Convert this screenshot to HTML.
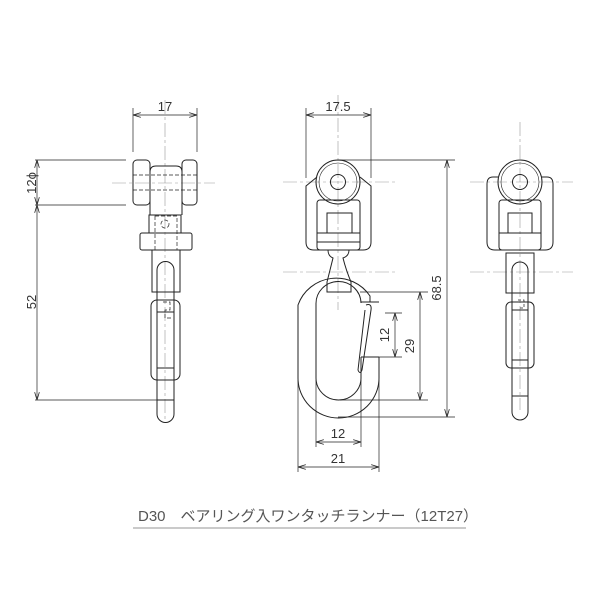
<!DOCTYPE html>
<html><head><meta charset="utf-8"><style>
html,body{margin:0;padding:0;background:#fff}
svg{display:block}
text{font-family:"Liberation Sans","Noto Sans CJK JP",sans-serif;fill:#333}
</style></head><body>
<svg width="600" height="600" viewBox="0 0 600 600" xmlns="http://www.w3.org/2000/svg">
<defs>
<marker id="a" viewBox="0 0 10 6" refX="10" refY="3" markerWidth="8" markerHeight="5" orient="auto-start-reverse" markerUnits="userSpaceOnUse"><path d="M0,0 L10,3 L0,6" fill="none" stroke="#222" stroke-width="1"/></marker>
</defs>
<g fill="none" stroke="#222" stroke-width="1">
<!-- LEFT VIEW -->
<g stroke="#999" stroke-width="0.6" stroke-dasharray="14,3,3,3">
<line x1="165" y1="100" x2="165" y2="420"/>
<line x1="112" y1="183" x2="215" y2="183"/>
</g>
<line x1="133" y1="108" x2="133" y2="152" stroke-width="0.7"/>
<line x1="197" y1="108" x2="197" y2="152" stroke-width="0.7"/>
<line x1="133" y1="115" x2="197" y2="115" stroke-width="0.7" marker-start="url(#a)" marker-end="url(#a)"/>
<line x1="35" y1="160" x2="126" y2="160" stroke-width="0.8"/>
<line x1="35" y1="205" x2="126" y2="205" stroke-width="0.8"/>
<line x1="35" y1="400" x2="157" y2="400" stroke-width="0.8"/>
<line x1="37" y1="160" x2="37" y2="205" stroke-width="0.7" marker-start="url(#a)" marker-end="url(#a)"/>
<line x1="37" y1="205" x2="37" y2="400" stroke-width="0.7" marker-start="url(#a)" marker-end="url(#a)"/>
<rect x="133" y="160" width="17" height="45" rx="4"/>
<rect x="182" y="160" width="15" height="45" rx="4"/>
<path d="M150,215 V172 Q150,166 156,166 H176 Q182,166 182,172 V215"/>
<g stroke-dasharray="4,2" stroke-width="0.7">
<line x1="133" y1="175" x2="197" y2="175"/>
<line x1="133" y1="190" x2="197" y2="190"/>
<rect x="155" y="216" width="22" height="34"/>
<circle cx="165" cy="224" r="4"/>
<path d="M163,302 H170 V310 H165 V318 H172"/>
</g>
<rect x="149" y="215" width="32" height="18"/>
<rect x="140" y="233" width="52" height="17" rx="2"/>
<rect x="152" y="250" width="28" height="42"/>
<rect x="151" y="300" width="29" height="80" rx="6"/>
<path d="M157,414 V270 A8.5,8.5 0 0 1 174,270 V414 A8.5,8.5 0 0 1 157,414"/>
<line x1="157" y1="312" x2="174" y2="312"/>
<line x1="157" y1="368" x2="174" y2="368"/>
<line x1="157" y1="400" x2="174" y2="400"/>
<!-- MIDDLE VIEW -->
<g stroke="#999" stroke-width="0.6" stroke-dasharray="14,3,3,3">
<line x1="338" y1="95" x2="338" y2="310"/>
<line x1="283" y1="182" x2="395" y2="182"/>
<line x1="283" y1="272" x2="395" y2="272"/>
</g>
<line x1="306" y1="108" x2="306" y2="178" stroke-width="0.7"/>
<line x1="371" y1="108" x2="371" y2="178" stroke-width="0.7"/>
<line x1="306" y1="115" x2="371" y2="115" stroke-width="0.7" marker-start="url(#a)" marker-end="url(#a)"/>
<circle cx="338" cy="182" r="22"/>
<circle cx="338" cy="182" r="19" stroke-width="0.6"/>
<circle cx="338" cy="182" r="7.5"/>
<path d="M317,177 L306,186 V242 Q306,250 314,250 H363 Q371,250 371,242 V186 L360,177"/>
<rect x="317" y="200" width="43" height="50" rx="3"/>
<rect x="327" y="213" width="25" height="20"/>
<line x1="317" y1="233" x2="360" y2="233"/>
<line x1="317" y1="242" x2="360" y2="242"/>
<path d="M328,250 Q328,256 333,258 Q330,270 327,282 V292 H351 V282 Q346,270 343,258 Q349,256 349,250"/>
<path d="M370,302 V296 A40.5,40 0 0 0 298,305 V378 A40.5,40 0 0 0 379,378 V357"/>
<path d="M361,302 V303 A22.5,22 0 0 0 316,304 V378 A22.5,22 0 0 0 361,378 V357"/>
<line x1="361" y1="302" x2="379" y2="302"/>
<line x1="361" y1="357" x2="379" y2="357"/>
<path d="M366,305 Q372,303 371,310 L362,370 Q360,375 358,370 L365,310"/>
<line x1="338" y1="160" x2="455" y2="160" stroke-width="0.8"/>
<line x1="338" y1="417" x2="455" y2="417" stroke-width="0.8"/>
<line x1="447" y1="160" x2="447" y2="417" stroke-width="0.7" marker-start="url(#a)" marker-end="url(#a)"/>
<line x1="360" y1="292" x2="428" y2="292" stroke-width="0.8"/>
<line x1="340" y1="400" x2="428" y2="400" stroke-width="0.8"/>
<line x1="420" y1="292" x2="420" y2="400" stroke-width="0.7" marker-start="url(#a)" marker-end="url(#a)"/>
<line x1="385" y1="313" x2="402" y2="313" stroke-width="0.8"/>
<line x1="365" y1="357" x2="402" y2="357" stroke-width="0.8"/>
<line x1="395" y1="313" x2="395" y2="357" stroke-width="0.7" marker-start="url(#a)" marker-end="url(#a)"/>
<line x1="316" y1="380" x2="316" y2="447" stroke-width="0.7"/>
<line x1="361" y1="380" x2="361" y2="447" stroke-width="0.7"/>
<line x1="298" y1="380" x2="298" y2="472" stroke-width="0.7"/>
<line x1="379" y1="380" x2="379" y2="472" stroke-width="0.7"/>
<line x1="316" y1="442" x2="361" y2="442" stroke-width="0.7" marker-start="url(#a)" marker-end="url(#a)"/>
<line x1="298" y1="467" x2="379" y2="467" stroke-width="0.7" marker-start="url(#a)" marker-end="url(#a)"/>
<!-- RIGHT VIEW -->
<g stroke="#999" stroke-width="0.6" stroke-dasharray="14,3,3,3">
<line x1="520" y1="122" x2="520" y2="410"/>
<line x1="470" y1="182" x2="573" y2="182"/>
<line x1="470" y1="272" x2="573" y2="272"/>
</g>
<circle cx="520" cy="182" r="22"/>
<circle cx="520" cy="182" r="19" stroke-width="0.6"/>
<circle cx="520" cy="182" r="7.5"/>
<path d="M499,177 H493 Q487,177 487,184 V242 Q487,250 495,250 H545 Q553,250 553,242 V184 Q553,177 547,177 H541"/>
<rect x="499" y="200" width="42" height="50" rx="3"/>
<rect x="508" y="213" width="24" height="20"/>
<line x1="499" y1="233" x2="541" y2="233"/>
<rect x="506" y="253" width="28" height="40"/>
<rect x="506" y="302" width="28" height="66" rx="5"/>
<path d="M512,412 V270 A8,8 0 0 1 528,270 V412 A8,8 0 0 1 512,412"/>
<line x1="512" y1="310" x2="528" y2="310"/>
<line x1="512" y1="360" x2="528" y2="360"/>
<line x1="512" y1="396" x2="528" y2="396"/>
<path d="M518,300 H524 V308 H519" stroke-dasharray="3,2" stroke-width="0.7"/>
<!-- caption underline -->
<line x1="133" y1="528" x2="466" y2="528" stroke="#aaa" stroke-width="1.2"/>
</g>
<g font-size="13">
<text x="165" y="111" text-anchor="middle">17</text>
<text x="338" y="111" text-anchor="middle">17.5</text>
<text x="338" y="438" text-anchor="middle">12</text>
<text x="338" y="463" text-anchor="middle">21</text>
<text transform="translate(36,183) rotate(-90)" text-anchor="middle">12ϕ</text>
<text transform="translate(36,302) rotate(-90)" text-anchor="middle">52</text>
<text transform="translate(441,288) rotate(-90)" text-anchor="middle">68.5</text>
<text transform="translate(414,346) rotate(-90)" text-anchor="middle">29</text>
<text transform="translate(389,335) rotate(-90)" text-anchor="middle">12</text>
</g>
<text x="138" y="521" font-size="15" style="fill:#555">D30　ベアリング入ワンタッチランナー（12T27）</text>
</svg>
</body></html>
